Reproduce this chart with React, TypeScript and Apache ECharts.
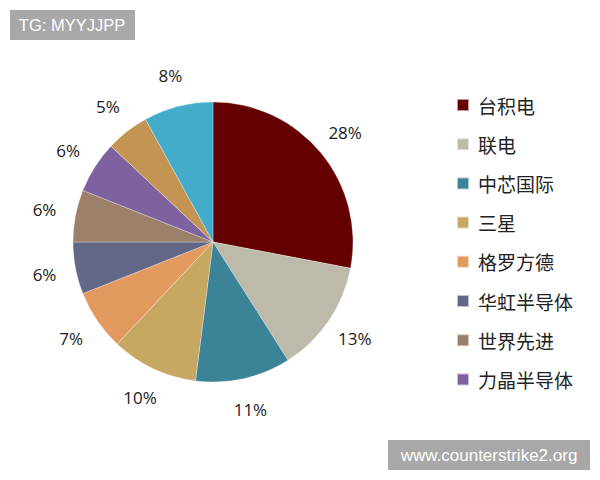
import React, { useEffect, useRef } from "react";
import * as echarts from "echarts";

const names = ["台积电", "联电", "中芯国际", "三星", "格罗方德", "华虹半导体", "世界先进", "力晶半导体", "其他A", "其他B"];
const values = [28, 13, 11, 10, 7, 6, 6, 6, 5, 8];
const colors = ["#640000", "#BDBAA9", "#3B8396", "#C7A862", "#E39A5E", "#626788", "#9C806A", "#7E62A0", "#C49552", "#43ACCB"];
const legendNames = ["台积电", "联电", "中芯国际", "三星", "格罗方德", "华虹半导体", "世界先进", "力晶半导体"];

export default function App() {
  const ref = useRef<HTMLDivElement>(null);
  useEffect(() => {
    document.body.style.margin = "0";
    const chart = echarts.init(ref.current!, null, { renderer: "svg" });
    const data = names.map((n, i) => ({ name: n, value: values[i], itemStyle: { color: colors[i] } }));
    const labelData = names.map((n, i) => ({ name: n, value: values[i] }));
    chart.setOption({
      animation: false,
      backgroundColor: "#ffffff",
      legend: {
        data: legendNames,
        orient: "vertical",
        left: 451,
        top: 90,
        itemWidth: 12,
        itemHeight: 12,
        icon: "rect",
        itemGap: 19.2,
        selectedMode: false,
        textStyle: { fontSize: 19, color: "#222", fontFamily: "Noto Sans CJK SC", padding: [0, 0, 0, 4], height: 20, lineHeight: 20 },
      },
      series: [
        {
          type: "pie",
          center: [213, 242],
          radius: [0, 140],
          startAngle: 90,
          clockwise: true,
          label: { show: false },
          labelLine: { show: false },
          itemStyle: { borderColor: "rgba(255,255,255,0.6)", borderWidth: 0.5 },
          emphasis: { disabled: true },
          data,
        },
        {
          type: "pie",
          center: [213, 242],
          radius: [140, 197],
          startAngle: 90,
          clockwise: true,
          silent: true,
          itemStyle: { color: "rgba(0,0,0,0)" },
          label: {
            show: true,
            position: "inside",
            formatter: (p: any) => p.value + "%",
            fontSize: 17,
            color: "#1a1a1a",
            fontFamily: "Open Sans",
          },
          labelLine: { show: false },
          emphasis: { disabled: true },
          data: labelData,
        },
      ],
      graphic: [
        { type: "rect", shape: { x: 10, y: 10, width: 125, height: 30 }, style: { fill: "#A8A8A8" } },
        { type: "text", x: 72, y: 25, style: { text: "TG: MYYJJPP", fill: "#fff", fontSize: 16.5, fontFamily: "Liberation Sans", align: "center", verticalAlign: "middle" } },
        { type: "rect", shape: { x: 388, y: 440, width: 202, height: 30 }, style: { fill: "#A8A8A8" } },
        { type: "text", x: 489, y: 455, style: { text: "www.counterstrike2.org", fill: "#fff", fontSize: 17, fontFamily: "Liberation Sans", align: "center", verticalAlign: "middle" } },
      ],
    });
    return () => chart.dispose();
  }, []);
  return <div ref={ref} style={{ width: 600, height: 480, position: "absolute", left: 0, top: 0 }} />;
}
